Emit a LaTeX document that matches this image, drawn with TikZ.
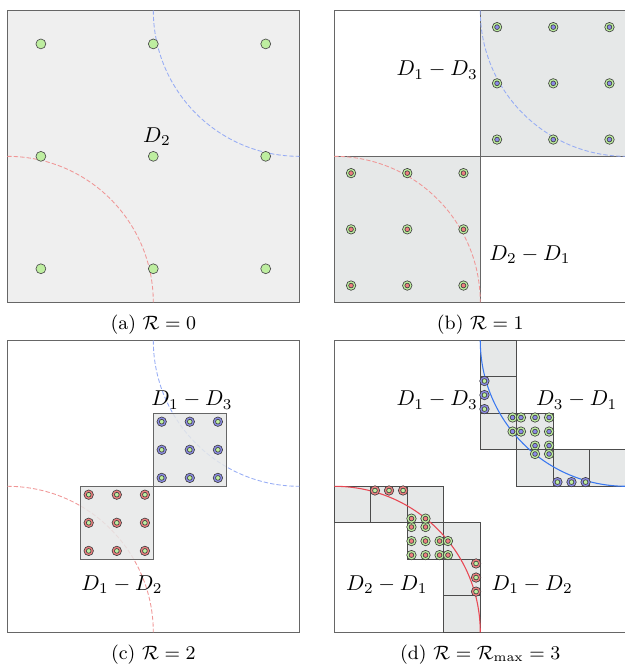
\documentclass[tikz,border=0pt]{standalone}
\usepackage{amsmath}
\usetikzlibrary{positioning}

\definecolor{ptgreen}{RGB}{190,238,160}
\definecolor{ptblue}{RGB}{140,140,232}
\definecolor{ptred}{RGB}{238,128,128}
\definecolor{panelgray}{RGB}{239,239,239}
\definecolor{boxgray}{RGB}{230,232,232}
\definecolor{arcred}{RGB}{240,150,150}
\definecolor{arcblue}{RGB}{150,172,245}
\definecolor{linered}{RGB}{232,72,84}
\definecolor{lineblue}{RGB}{58,120,240}

\newcommand{\ringdot}[4]{%
  \filldraw[ring, fill=#3] (#1,#2) circle[radius=2.2pt];
  \filldraw[ring, fill=#4] (#1,#2) circle[radius=1.1pt];}

\begin{document}
\begin{tikzpicture}[x=33.95pt, y=33.95pt,
  frame/.style={draw=black!60, line width=0.5pt},
  cell/.style={fill=boxgray, draw=black!70, line width=0.5pt},
  bigcell/.style={fill=boxgray, draw=black!60, line width=0.65pt},
  dot/.style={fill=ptgreen, draw=black!70, line width=0.3pt},
  ring/.style={draw=black!75, line width=0.3pt},
  fadearc/.style={line width=0.4pt, dash pattern=on 2pt off 1pt},
  lbl/.style={inner sep=2pt},
  subcap/.style={font=\small}]
  \useasboundingbox (0,0) rectangle (8.5616,9.1096);

  % (a)
  \begin{scope}[shift={(0.100,4.968)}]
    \filldraw[frame, fill=panelgray] (0,0) rectangle (4,4);
    \draw[fadearc, arcred] (0,2) arc[start angle=90, end angle=0, radius=2];
    \draw[fadearc, arcblue] (2,4) arc[start angle=180, end angle=270, radius=2];
    \foreach \x in {0.46,2,3.54}
      \foreach \y in {0.46,2,3.54}
        {\filldraw[dot] (\x,\y) circle[radius=2.3pt];}
    \node[lbl] (lblA) at (2.05,2.27) {$D_2$};
    \node[subcap] (capA) at (2,-0.31) {(a) $\mathcal{R} = 0$};
  \end{scope}

  % (b)
  \begin{scope}[shift={(4.579,4.968)}]
    \draw[frame] (0,0) rectangle (4,4);
    \filldraw[frame, fill=boxgray] (2,2) rectangle (4,4);
    \filldraw[frame, fill=boxgray] (0,0) rectangle (2,2);
    \draw[fadearc, arcred] (0,2) arc[start angle=90, end angle=0, radius=2];
    \draw[fadearc, arcblue] (2,4) arc[start angle=180, end angle=270, radius=2];
    \foreach \x in {2.23,3,3.77}
      \foreach \y in {2.23,3,3.77}
        {\ringdot{\x}{\y}{ptgreen}{ptblue}}
    \foreach \x in {0.23,1,1.77}
      \foreach \y in {0.23,1,1.77}
        {\ringdot{\x}{\y}{ptgreen}{ptred}}
    \node[lbl] (lblB1) at (1.41,3.18) {$D_1 - D_3$};
    \node[lbl] (lblB2) at (2.68,0.65) {$D_2 - D_1$};
    \node[subcap] (capB) at (2,-0.31) {(b) $\mathcal{R} = 1$};
  \end{scope}

  % (c)
  \begin{scope}[shift={(0.100,0.448)}]
    \draw[frame] (0,0) rectangle (4,4);
    \draw[fadearc, arcred] (0,2) arc[start angle=90, end angle=0, radius=2];
    \draw[fadearc, arcblue] (2,4) arc[start angle=180, end angle=270, radius=2];
    \filldraw[bigcell, fill opacity=0.85] (2,2) rectangle (3,3);
    \filldraw[bigcell, fill opacity=0.85] (1,1) rectangle (2,2);
    \foreach \x in {2.115,2.5,2.885}
      \foreach \y in {2.115,2.5,2.885}
        {\ringdot{\x}{\y}{ptblue}{ptgreen}}
    \foreach \x in {1.115,1.5,1.885}
      \foreach \y in {1.115,1.5,1.885}
        {\ringdot{\x}{\y}{ptred}{ptgreen}}
    \node[lbl] (lblC1) at (2.53,3.18) {$D_1 - D_3$};
    \node[lbl] (lblC2) at (1.57,0.65) {$D_1 - D_2$};
    \node[subcap] (capC) at (2,-0.31) {(c) $\mathcal{R} = 2$};
  \end{scope}

  % (d)
  \begin{scope}[shift={(4.579,0.448)}]
    \draw[frame] (0,0) rectangle (4,4);
    \foreach \a/\b in {2/3.5,2/3,2/2.5,2.5/2.5,2.5/2,3/2,3.5/2,
                       1.5/0,1.5/0.5,1.5/1,1/1,1/1.5,0.5/1.5,0/1.5}
      {\draw[cell] (\a,\b) rectangle ++(0.5,0.5);}
    \draw[line width=0.5pt, linered] (0,2) arc[start angle=90, end angle=0, radius=2];
    \draw[line width=0.5pt, lineblue] (2,4) arc[start angle=180, end angle=270, radius=2];
    \foreach \t in {3.0575,3.25,3.4425} {
      \ringdot{2.0575}{\t}{ptblue}{ptgreen}
      \ringdot{\t}{2.0575}{ptblue}{ptgreen}
    }
    \foreach \y in {2.9425,2.75}
      \foreach \x in {2.4425,2.5575,2.75,2.9425}
        {\ringdot{\x}{\y}{ptgreen}{ptblue}}
    \foreach \y in {2.5575,2.4425}
      \foreach \x in {2.75,2.9425}
        {\ringdot{\x}{\y}{ptgreen}{ptblue}}
    \foreach \t in {0.5575,0.75,0.9425} {
      \ringdot{\t}{1.9425}{ptred}{ptgreen}
      \ringdot{1.9425}{\t}{ptred}{ptgreen}
    }
    \foreach \y in {1.0575,1.25}
      \foreach \x in {1.0575,1.25,1.4425,1.5575}
        {\ringdot{\x}{\y}{ptgreen}{ptred}}
    \foreach \y in {1.4425,1.5575}
      \foreach \x in {1.0575,1.25}
        {\ringdot{\x}{\y}{ptgreen}{ptred}}
    \node[lbl] (lblD1) at (1.41,3.18) {$D_1 - D_3$};
    \node[lbl] (lblD2) at (3.32,3.18) {$D_3 - D_1$};
    \node[lbl] (lblD3) at (0.72,0.65) {$D_2 - D_1$};
    \node[lbl] (lblD4) at (2.71,0.65) {$D_1 - D_2$};
    \node[subcap] (capD) at (2,-0.31) {(d) $\mathcal{R} = \mathcal{R}_{\max} = 3$};
  \end{scope}
\end{tikzpicture}
\end{document}
